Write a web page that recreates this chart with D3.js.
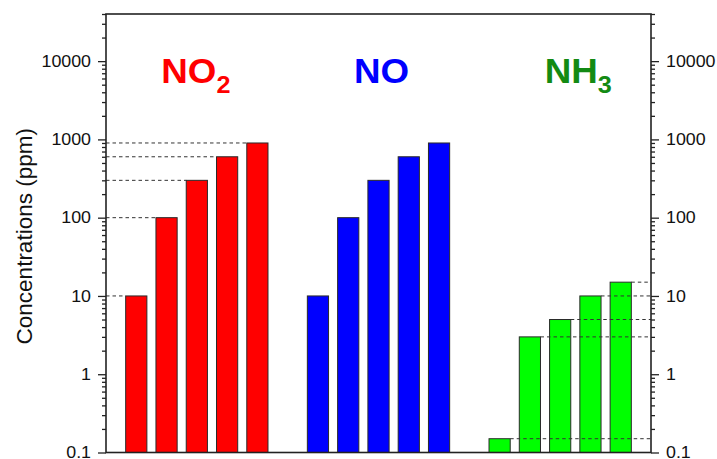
<!DOCTYPE html>
<html>
<head>
<meta charset="utf-8">
<script src="https://cdn.jsdelivr.net/npm/d3@7"></script>
<style>
  html, body { margin: 0; padding: 0; background: #fff; }
  svg { display: block; }
  text { font-family: "Liberation Sans", Arial, sans-serif; }
</style>
</head>
<body>
<svg id="chart" width="717" height="459"></svg>
<script>
// ---- data ----
const gases = ["NO2", "NO", "NH3"];
const gasMain = ["NO", "NO", "NH"];
const gasSub = ["2", "", "3"];
const no2Values = [10, 100, 300, 600, 900];
const noValues = [10, 100, 300, 600, 900];
const nh3Values = [0.15, 3, 5, 10, 15];
const majorTicks = [0.1, 1, 10, 100, 1000, 10000];
const tickLabels = ["0.1", "1", "10", "100", "1000", "10000"];
const yDomain = [0.1, 40000];
const yTitle = "Concentrations (ppm)";

// ---- styles / layout ----
const barColors = ["#ff0000", "#0000ff", "#00ff00"];
const labelColors = ["#ff0000", "#0000ff", "#138a13"];
const labelOffsets = [-1, 3, 18];
const plotLeft = 106, plotRight = 651, plotTop = 14, plotBottom = 452.5;
const stretch = 1.08;

const series = [no2Values, noValues, nh3Values];
const slots = [];
gases.forEach((g, gi) => {
  if (gi > 0) slots.push("gap" + gi);
  series[gi].forEach((v, i) => slots.push(g + "-" + i));
});

const svg = d3.select("#chart");
const x = d3.scaleBand().domain(slots).range([plotLeft, plotRight]).paddingInner(0.3).paddingOuter(0.65);
const y = d3.scaleLog().domain(yDomain).range([plotBottom, plotTop]);

// minor ticks
const minorTicks = [];
majorTicks.forEach(d => {
  for (let k = 2; k <= 9; k++) {
    const v = +(k * d).toPrecision(6);
    if (v <= yDomain[1]) minorTicks.push(v);
  }
});

// bars
gases.forEach((g, gi) => {
  svg.append("g").selectAll("rect")
    .data(series[gi])
    .join("rect")
    .attr("x", (d, i) => x(g + "-" + i))
    .attr("width", x.bandwidth())
    .attr("y", d => y(d))
    .attr("height", d => plotBottom - y(d))
    .attr("fill", barColors[gi])
    .attr("stroke", "#2a2a2a")
    .attr("stroke-width", 1);
});

// dashed reference lines
const dash = svg.append("g")
  .attr("stroke", "#333")
  .attr("stroke-width", 1)
  .attr("stroke-dasharray", "3.5,3");
dash.append("g").selectAll("line")
  .data(no2Values)
  .join("line")
  .attr("x1", plotLeft)
  .attr("x2", (d, i) => x("NO2-" + i))
  .attr("y1", d => y(d))
  .attr("y2", d => y(d));
dash.append("g").selectAll("line")
  .data(nh3Values)
  .join("line")
  .attr("x1", (d, i) => x("NH3-" + i) + x.bandwidth())
  .attr("x2", plotRight)
  .attr("y1", d => y(d))
  .attr("y2", d => y(d));

// axes
function styleAxis(g) {
  g.select(".domain").remove();
  g.selectAll("line").attr("stroke", "#222").attr("stroke-width", 1.3);
  g.selectAll("text").attr("fill", "#111").style("font-size", "16.5px")
    .style("font-family", "'Liberation Sans', Arial, sans-serif")
    .attr("x", function() { return +d3.select(this).attr("x") / stretch; })
    .attr("transform", `scale(${stretch},1)`);
}
svg.append("g").attr("transform", `translate(${plotLeft},0)`)
  .call(d3.axisLeft(y).tickValues(majorTicks).tickFormat((d, i) => tickLabels[i]).tickSize(8).tickPadding(7).tickSizeOuter(0))
  .call(styleAxis);
svg.append("g").attr("transform", `translate(${plotLeft},0)`)
  .call(d3.axisLeft(y).tickValues(minorTicks).tickFormat("").tickSize(4).tickSizeOuter(0))
  .call(styleAxis);
svg.append("g").attr("transform", `translate(${plotRight},0)`)
  .call(d3.axisRight(y).tickValues(majorTicks).tickFormat((d, i) => tickLabels[i]).tickSize(8).tickPadding(7).tickSizeOuter(0))
  .call(styleAxis);
svg.append("g").attr("transform", `translate(${plotRight},0)`)
  .call(d3.axisRight(y).tickValues(minorTicks).tickFormat("").tickSize(4).tickSizeOuter(0))
  .call(styleAxis);

// frame
svg.append("rect")
  .attr("x", plotLeft).attr("y", plotTop)
  .attr("width", plotRight - plotLeft).attr("height", plotBottom - plotTop)
  .attr("fill", "none").attr("stroke", "#222").attr("stroke-width", 1.6);

// gas labels
gases.forEach((g, gi) => {
  const cx = x(g + "-2") + x.bandwidth() / 2 + labelOffsets[gi];
  const t = svg.append("text")
    .attr("transform", `translate(${cx},83) scale(1.05,1)`)
    .attr("text-anchor", "middle")
    .attr("fill", labelColors[gi])
    .style("font-weight", "bold")
    .style("font-size", "35px");
  t.append("tspan").text(gasMain[gi]);
  if (gasSub[gi]) {
    t.append("tspan").attr("dy", 10).style("font-size", "24px").text(gasSub[gi]);
  }
});

// y title
svg.append("text")
  .attr("transform", `translate(31.5,${(plotTop + plotBottom) / 2 + 3}) rotate(-90)`)
  .attr("text-anchor", "middle")
  .attr("fill", "#111")
  .style("font-size", "22.5px")
  .text(yTitle);
</script>
</body>
</html>
